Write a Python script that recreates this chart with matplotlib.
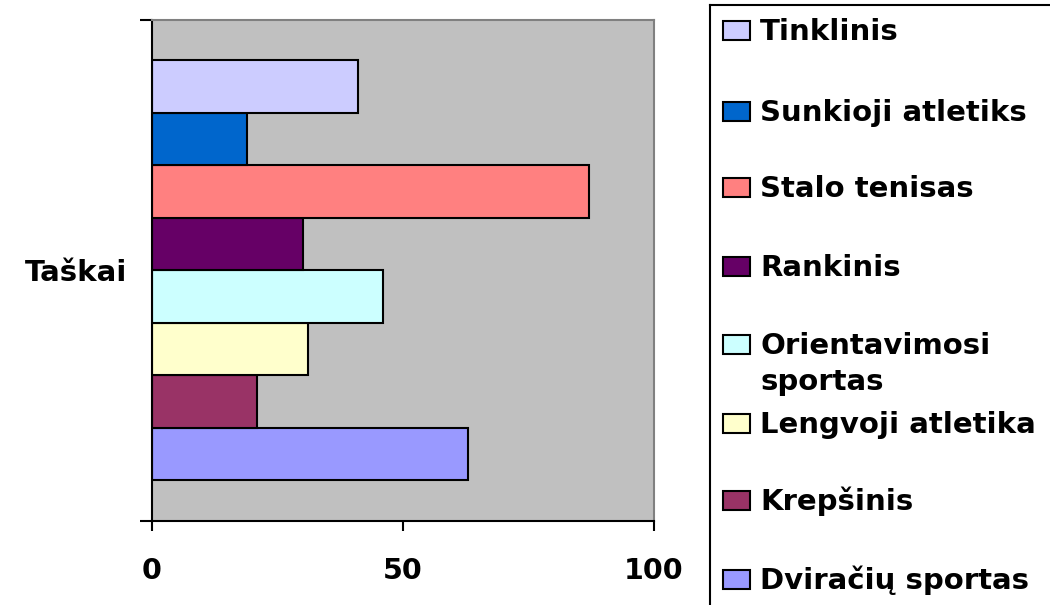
import matplotlib
matplotlib.use('Agg')
import matplotlib.pyplot as plt
from matplotlib.patches import Rectangle

# Duomenys (apačia -> viršus, kaip Excel)
sports = ['Dviračių sportas', 'Krepšinis', 'Lengvoji atletika', 'Orientavimosi\nsportas',
          'Rankinis', 'Stalo tenisas', 'Sunkioji atletiks', 'Tinklinis']
points = [63, 21, 31, 46, 30, 87, 19, 41]
colors = ['#9999FF', '#993366', '#FFFFCC', '#CCFFFF', '#660066', '#FF8080', '#0066CC', '#CCCCFF']
category = 'Taškai'
xticks = [0, 50, 100]

plt.rcParams['font.family'] = ['DejaVu Sans']
plt.rcParams['font.weight'] = 'bold'

W, H = 1050, 605
fig = plt.figure(figsize=(W / 100, H / 100), dpi=100)
ax = fig.add_axes([152 / W, (H - 520.5) / H, (654 - 152) / W, 500.5 / H])
ax.set_facecolor('#C0C0C0')

n = len(points)
group = 0.84
h = group / n
for i, (val, col) in enumerate(zip(points, colors)):
    y = -group / 2 + h * (i + 0.5)
    ax.barh(y, val, height=h, color=col, edgecolor='black', linewidth=1.5)

ax.set_xlim(0, 100)
ax.set_ylim(-0.5, 0.5)
ax.set_xticks(xticks)
ax.set_xticklabels([str(t) for t in xticks], fontsize=20.5, fontweight='bold')
ax.tick_params(axis='x', length=7, width=1.5, pad=19)

ax.set_yticks([0])
ax.set_yticklabels([category], fontsize=21, fontweight='bold')
ax.set_yticks([-0.5, 0.5], minor=True)
ax.tick_params(axis='y', which='major', length=0, pad=18)
ax.tick_params(axis='y', which='minor', length=9, width=1.5)

for s in ['top', 'right']:
    ax.spines[s].set_color('#808080')
    ax.spines[s].set_linewidth(1.5)
for s in ['left', 'bottom']:
    ax.spines[s].set_color('black')
    ax.spines[s].set_linewidth(1.5)

# Legenda (rankiniu būdu, pikselių koordinatėmis)
leg = fig.add_axes([710 / W, 0, 1, 600 / H])
leg.set_xlim(710, 710 + W)
leg.set_ylim(H, 5)
leg.set_xticks([])
leg.set_yticks([])
leg.patch.set_alpha(0)
for s in ['right', 'bottom']:
    leg.spines[s].set_visible(False)
for s in ['left', 'top']:
    leg.spines[s].set_linewidth(1.5)

leg_y = [579, 500, 423, 344, 266, 187, 111, 30]
for lab, col, yc in zip(sports, colors, leg_y):
    leg.add_patch(Rectangle((723, yc - 9.5), 27, 19, facecolor=col,
                            edgecolor='black', linewidth=1.5))
    for j, line in enumerate(lab.split('\n')):
        leg.text(760, yc + 10 + j * 36, line, fontsize=21, fontweight='bold',
                 va='baseline', ha='left')

fig.savefig('out.png', dpi=100)
